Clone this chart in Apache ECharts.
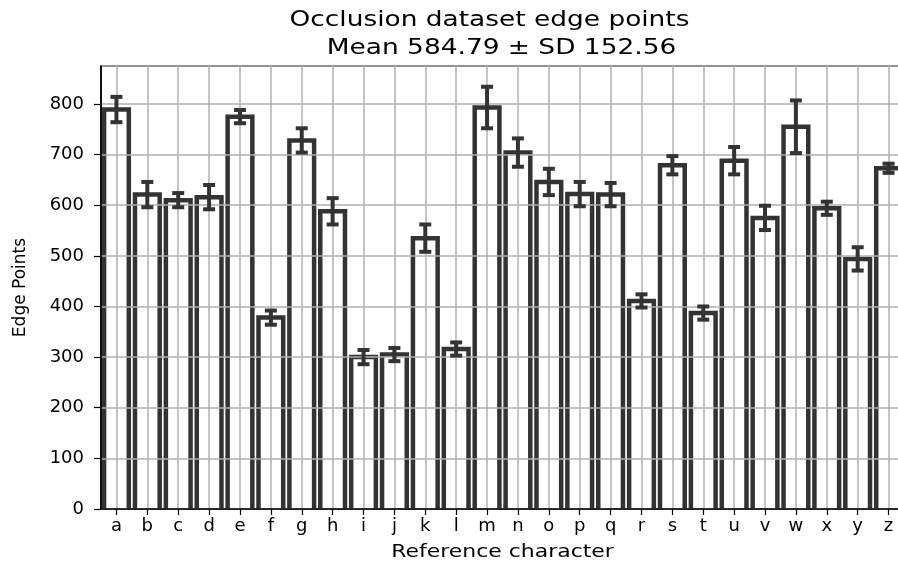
<!DOCTYPE html>
<html>
<head>
<meta charset="utf-8">
<title>Occlusion dataset edge points</title>
<script src="https://cdn.jsdelivr.net/npm/echarts@6/dist/echarts.min.js"></script>
<style>
  html, body { margin: 0; padding: 0; background: #fff; }
  #chart { width: 898px; height: 564px; }
</style>
</head>
<body>
<div id="chart"></div>
<script>
// Reference characters on the x axis
const categories = ['a','b','c','d','e','f','g','h','i','j','k','l','m',
                    'n','o','p','q','r','s','t','u','v','w','x','y','z'];

// Mean number of edge points per character
const edgeMeans = [789, 621, 610, 616, 775, 378, 728, 588, 300, 305, 535, 316, 793,
                   704, 646, 622, 621, 411, 679, 387, 688, 575, 755, 594, 494, 673];

// Standard deviation per character (error bar half-length)
const edgeSD = [25, 25, 14, 24, 13, 14, 24, 26, 14, 13, 27, 13, 41,
                28, 26, 24, 23, 13, 18, 13, 27, 24, 52, 13, 23, 9];

const titleLines = ['Occlusion dataset edge points', 'Mean 584.79 \u00B1 SD 152.56'];
const xAxisTitle = 'Reference character';
const yAxisTitle = 'Edge Points';
const yMax = 875;
const yStep = 100;

const FONT = "'DejaVu Sans', 'Noto Sans', sans-serif";
const INK = '#333333';

const chart = echarts.init(document.getElementById('chart'), null, { renderer: 'canvas' });

const barData = categories.map((c, i) => [i, edgeMeans[i]]);
const errData = categories.map((c, i) => [i, edgeMeans[i], edgeSD[i]]);

// Open-bottom bar outline: white body, dark left/top/right edges
function renderBar(params, api) {
  const i = api.value(0);
  const v = api.value(1);
  const topMid = api.coord([i, v]);
  const base = api.coord([i, 0]);
  const w = api.size([1, 0])[0] * 0.8;
  const x0 = topMid[0] - w / 2;
  const x1 = topMid[0] + w / 2;
  return {
    type: 'group',
    children: [
      { type: 'rect', shape: { x: x0, y: topMid[1], width: w, height: base[1] - topMid[1] },
        style: { fill: '#fff' } },
      { type: 'polyline',
        shape: { points: [[x0, base[1] + 3], [x0, topMid[1]], [x1, topMid[1]], [x1, base[1] + 3]] },
        style: { stroke: INK, lineWidth: 4.5, fill: null, lineJoin: 'miter' } }
    ]
  };
}

function renderErrorBar(params, api) {
  const i = api.value(0);
  const v = api.value(1);
  const e = api.value(2);
  const top = api.coord([i, v + e]);
  const bot = api.coord([i, v - e]);
  const half = 6;
  const st = { stroke: INK, lineWidth: 4 };
  return {
    type: 'group',
    children: [
      { type: 'line', shape: { x1: top[0], y1: top[1], x2: bot[0], y2: bot[1] }, style: st },
      { type: 'line', shape: { x1: top[0] - half, y1: top[1], x2: top[0] + half, y2: top[1] }, style: st },
      { type: 'line', shape: { x1: bot[0] - half, y1: bot[1], x2: bot[0] + half, y2: bot[1] }, style: st }
    ]
  };
}

const option = {
  backgroundColor: '#fff',
  animation: false,
  grid: {
    left: 101, right: -6, top: 66, bottom: 55,
    outerBoundsMode: 'none',
    containLabel: false,
    show: true, borderColor: '#000', borderWidth: 1.5, backgroundColor: 'transparent'
  },
  graphic: [
    { type: 'text', x: 489.5, y: 20, scaleX: 1.2, z: 10,
      style: { text: titleLines[0], font: '22px ' + FONT, fill: '#000', align: 'center', verticalAlign: 'middle' } },
    { type: 'text', x: 501.5, y: 48, scaleX: 1.2, z: 10,
      style: { text: titleLines[1], font: '22px ' + FONT, fill: '#000', align: 'center', verticalAlign: 'middle' } },
    { type: 'text', x: 502.5, y: 552, scaleX: 1.22, z: 10,
      style: { text: xAxisTitle, font: '18px ' + FONT, fill: '#000', align: 'center', verticalAlign: 'middle' } }
  ],
  xAxis: {
    type: 'category',
    data: categories,
    boundaryGap: true,
    z: 2,
    axisLine: { show: true, lineStyle: { color: '#000', width: 1.5 } },
    axisTick: { show: true, alignWithLabel: true, length: 6, lineStyle: { color: '#000', width: 1.2 } },
    axisLabel: { color: '#000', fontFamily: FONT, fontSize: 18, margin: 8, interval: 0 },
    splitLine: { show: true, alignWithLabel: true, lineStyle: { color: '#b0b0b0', width: 1.5 } }
  },
  yAxis: {
    type: 'value',
    min: 0, max: yMax, interval: yStep,
    z: 2,
    name: yAxisTitle,
    nameLocation: 'middle',
    nameGap: 72,
    nameTextStyle: { color: '#000', fontFamily: FONT, fontSize: 17 },
    axisLine: { show: true, lineStyle: { color: '#000', width: 1.5 } },
    axisTick: { show: true, length: 7, lineStyle: { color: '#000', width: 1.2 } },
    axisLabel: { color: '#000', fontFamily: FONT, fontSize: 18, margin: 17, showMaxLabel: false },
    splitLine: { show: true, lineStyle: { color: '#b0b0b0', width: 1.5 } }
  },
  series: [
    {
      type: 'custom',
      name: 'Edge points',
      data: barData,
      z: 1,
      clip: true,
      encode: { x: 0, y: 1 },
      renderItem: renderBar
    },
    {
      type: 'custom',
      name: 'SD',
      data: errData,
      z: 3,
      encode: { x: 0, y: 1 },
      renderItem: renderErrorBar
    }
  ]
};

chart.setOption(option);
</script>
</body>
</html>
